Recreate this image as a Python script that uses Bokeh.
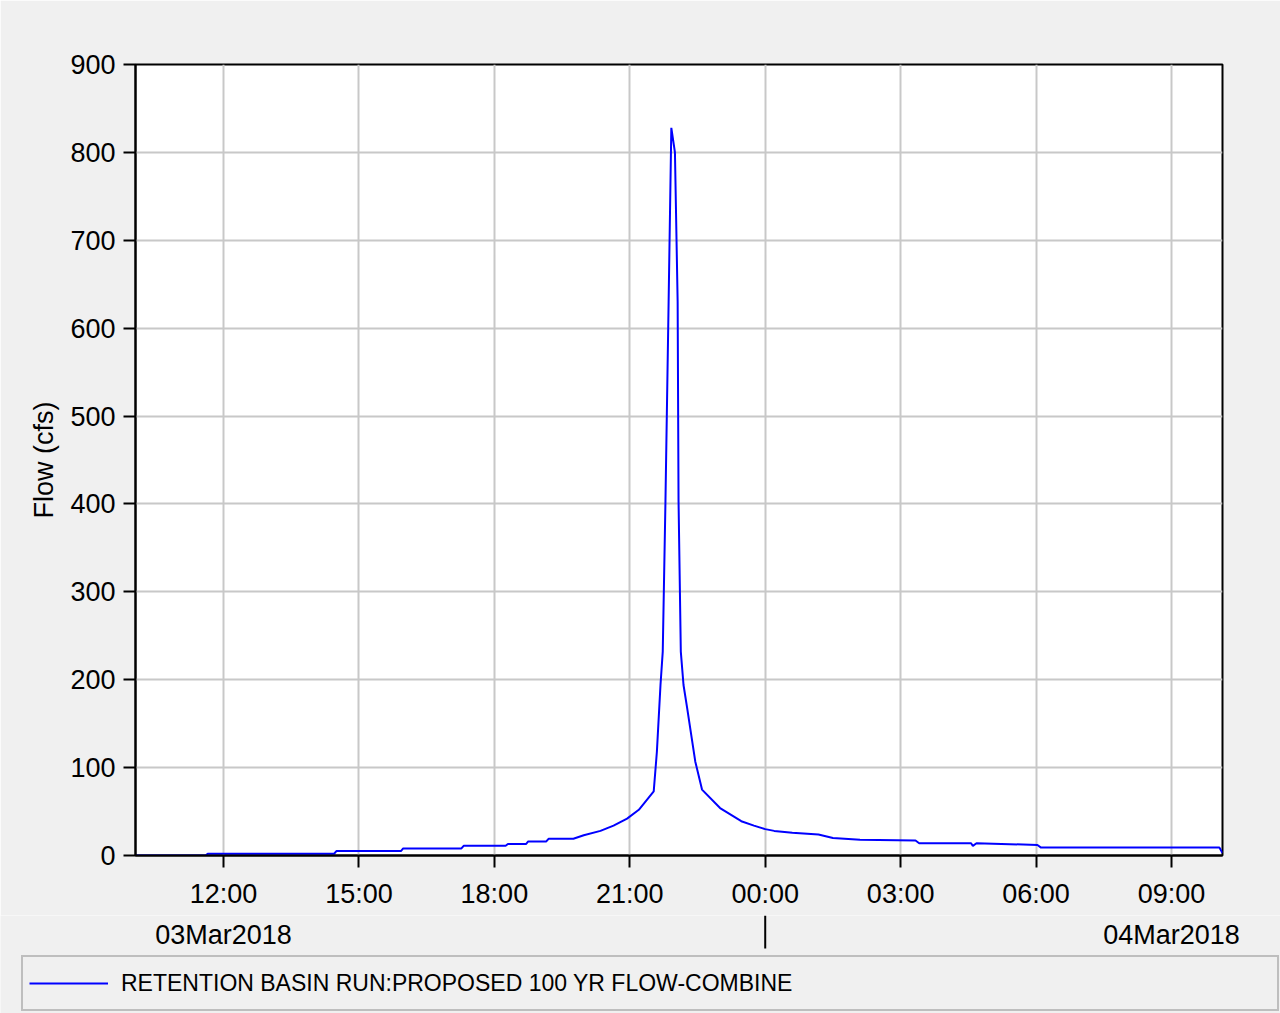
from datetime import datetime, timedelta
from bokeh.plotting import figure
from bokeh.layouts import column
from bokeh.models import (Range1d, FixedTicker, DatetimeTickFormatter,
                          Legend, LegendItem, ColumnDataSource)
from bokeh.core.properties import value
from bokeh.embed import file_html
from bokeh.resources import INLINE

# ---------------- data ----------------
base_day = datetime(2018, 3, 3)
hours_since_start_day = [10.05, 11.6, 11.65, 14.45, 14.5, 15.93, 15.98, 17.27, 17.32, 18.25,
                         18.3, 18.7, 18.75, 19.15, 19.2, 19.75, 19.98, 20.35, 20.64, 20.94,
                         21.2, 21.53, 21.6, 21.68, 21.73, 21.79, 21.86, 21.92, 22.0, 22.06,
                         22.08, 22.13, 22.19, 22.27, 22.45, 22.6, 23.0, 23.47, 23.75, 24.0,
                         24.2, 24.6, 25.18, 25.5, 26.1, 27.33, 27.41, 28.56, 28.6, 28.68,
                         30.03, 30.11, 34.06, 34.13]
flow_cfs = [0, 0, 2, 2, 5, 5, 8, 8, 11, 11,
            13, 13, 16, 16, 19, 19, 23, 28, 34, 42,
            52, 73, 118, 194, 232, 403, 630, 828, 800, 630,
            403, 232, 194, 168, 107, 75, 54, 39, 34, 30,
            28, 26, 24, 20, 18, 17, 14, 14, 11, 14,
            12, 9, 9, 3]
x_start_hours = 10.05
x_end_hours = 34.13
time_tick_hours = [12, 15, 18, 21, 24, 27, 30, 33]
date_label_hours = [12, 33]
date_labels = ["03Mar2018", "04Mar2018"]
day_break_hours = [24]
y_tick_values = [0, 100, 200, 300, 400, 500, 600, 700, 800, 900]
y_axis_title = "Flow (cfs)"
series_name = "RETENTION BASIN RUN:PROPOSED 100 YR FLOW-COMBINE"

EPOCH = datetime(1970, 1, 1)


def to_dt(h):
    return base_day + timedelta(hours=h)


def to_ms(h):
    return (to_dt(h) - EPOCH).total_seconds() * 1000.0


FONT = "Liberation Sans"
BG = "#f0f0f0"
FRAME_W, FRAME_H = 1087, 791
LEFT, RIGHT, TOP, BOTTOM = 135, 58, 64, 60
FOOT_H = 1013 - (TOP + FRAME_H + BOTTOM)

source = ColumnDataSource(data=dict(t=[to_dt(h) for h in hours_since_start_day], q=flow_cfs))

p = figure(x_axis_type="datetime", output_backend="svg", toolbar_location=None,
           frame_width=FRAME_W, frame_height=FRAME_H,
           min_border_left=LEFT, min_border_right=RIGHT, min_border_top=TOP,
           min_border_bottom=BOTTOM,
           x_range=Range1d(to_dt(x_start_hours), to_dt(x_end_hours)),
           y_range=Range1d(0, 900))
p.frame_align = False
p.background_fill_color = "white"
p.border_fill_color = BG
p.outline_line_color = "black"
p.outline_line_width = 2

r = p.line("t", "q", source=source, line_color="#0000ff", line_width=2)

# time axis
time_ticker = FixedTicker(ticks=[to_ms(h) for h in time_tick_hours], minor_ticks=[])
fmt_time = DatetimeTickFormatter(microseconds="%H:%M", milliseconds="%H:%M", seconds="%H:%M",
                                 minsec="%H:%M", minutes="%H:%M", hourmin="%H:%M",
                                 hours="%H:%M", days="%H:%M", months="%H:%M", years="%H:%M",
                                 strip_leading_zeros=False)
xa = p.xaxis[0]
xa.ticker = time_ticker
xa.formatter = fmt_time
xa.axis_line_color = "black"
xa.axis_line_width = 2
xa.major_tick_line_color = "black"
xa.major_tick_line_width = 2
xa.major_tick_out = 12
xa.major_tick_in = 0
xa.minor_tick_line_color = None
xa.major_label_text_font = FONT
xa.major_label_text_font_size = "27px"
xa.major_label_text_color = "black"
xa.major_label_standoff = 11
p.xgrid.ticker = time_ticker

# y axis
ya = p.yaxis[0]
ya.ticker = FixedTicker(ticks=y_tick_values, minor_ticks=[])
p.ygrid.ticker = FixedTicker(ticks=y_tick_values, minor_ticks=[])
ya.axis_line_color = "black"
ya.axis_line_width = 2
ya.major_tick_line_color = "black"
ya.major_tick_line_width = 2
ya.major_tick_out = 12
ya.major_tick_in = 0
ya.minor_tick_line_color = None
ya.major_label_text_font = FONT
ya.major_label_text_font_size = "27px"
ya.major_label_text_color = "black"
ya.major_label_standoff = 8
ya.axis_label = y_axis_title
ya.axis_label_text_font = FONT
ya.axis_label_text_font_size = "27px"
ya.axis_label_text_font_style = "normal"
ya.axis_label_text_color = "black"
ya.axis_label_standoff = 8

for g in (p.xgrid[0], p.ygrid[0]):
    g.grid_line_color = "#c8c8c8"
    g.grid_line_width = 2

# ---------- footer: date row, day separator, legend ----------
px_per_hour = FRAME_W / (x_end_hours - x_start_hours)
foot_start = x_start_hours - LEFT / px_per_hour
foot_end = x_end_hours + RIGHT / px_per_hour

f = figure(x_axis_type=None, y_axis_type=None, output_backend="svg", toolbar_location=None,
           width=1280, height=FOOT_H, min_border=0,
           x_range=Range1d(to_dt(foot_start), to_dt(foot_end)),
           y_range=Range1d(FOOT_H, 0))
f.frame_align = False
f.background_fill_color = BG
f.border_fill_color = BG
f.outline_line_color = None

f.text(x=[to_dt(h) for h in date_label_hours], y=[19] * len(date_labels), text=date_labels,
       text_font=value(FONT), text_font_size="27px", text_color="black",
       text_align="center", text_baseline="middle")
f.segment(x0=[to_dt(h) for h in day_break_hours], y0=[0] * len(day_break_hours),
          x1=[to_dt(h) for h in day_break_hours], y1=[33] * len(day_break_hours),
          line_color="black", line_width=2)

# hidden copy of the series, used only as the legend's swatch
proxy = f.line("t", "q", source=source, line_color="#0000ff", line_width=2, visible=False)
legend = Legend(items=[LegendItem(label=series_name, renderers=[proxy])],
                location=(21, 2), orientation="horizontal",
                label_text_font=FONT, label_text_font_size="23px", label_text_color="black",
                glyph_width=79, glyph_height=40, label_standoff=13, padding=6,
                label_width=1150, margin=0,
                background_fill_color=BG, background_fill_alpha=1.0,
                border_line_color="#8c8c8c", border_line_width=2)
f.add_layout(legend, "center")

layout = column(p, f, spacing=0)
open("out.html", "w").write(file_html(layout, INLINE))
